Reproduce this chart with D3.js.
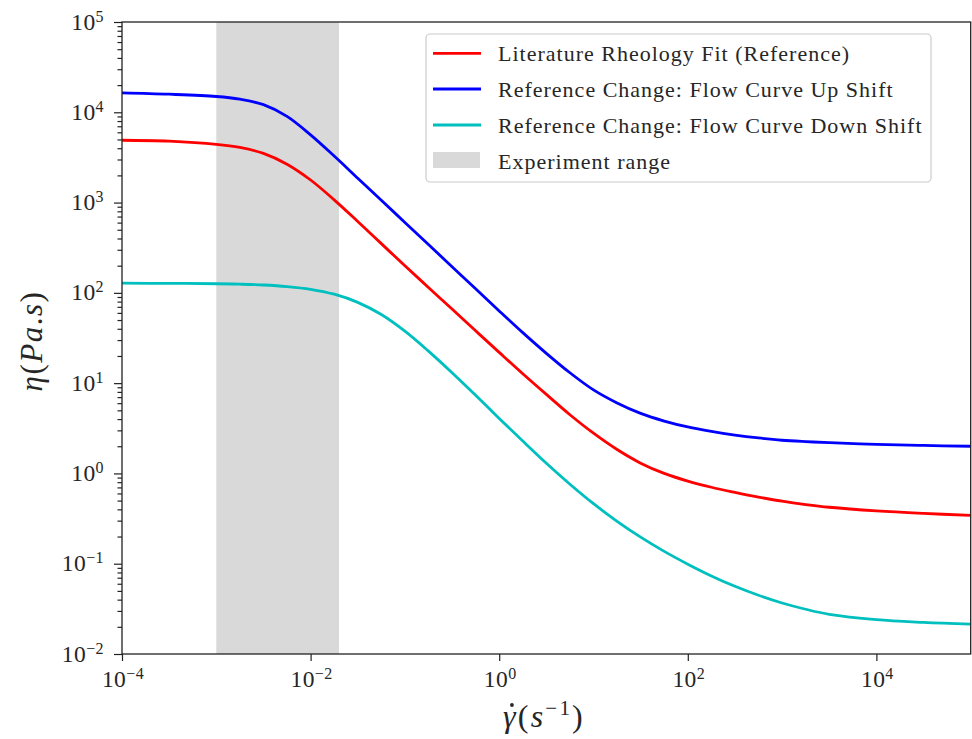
<!DOCTYPE html>
<html><head><meta charset="utf-8">
<script src="https://cdn.jsdelivr.net/npm/d3@7"></script>
<style>
body{margin:0;background:#fff}
text{font-family:"Liberation Serif","DejaVu Serif",serif;fill:#262626}
</style>
</head><body>
<svg id="chart" width="972" height="739"></svg>
<script>
// ---- data ----
const shearRate = [1e-4, 3.162e-4, 1e-3, 1.778e-3, 3.162e-3, 5.623e-3, 1e-2, 1.778e-2, 3.162e-2, 5.623e-2,
  0.1, 0.1778, 0.3162, 0.5623, 1, 1.778, 3.162, 5.623, 10, 17.78, 31.62, 56.23,
  100, 177.8, 316.2, 562.3, 1000, 1778, 3162, 1e4, 3.162e4, 1e5];
const literatureFit = [4898, 4786, 4416, 4074, 3508, 2661, 1778, 1072, 617, 351,
  199.5, 114.8, 66.1, 38.0, 21.9, 12.7, 7.50, 4.47, 2.79, 1.84, 1.30, 1.00,
  0.822, 0.703, 0.617, 0.547, 0.492, 0.452, 0.422, 0.385, 0.361, 0.343];
const upShift = [16410, 15850, 14960, 13960, 12160, 9016, 5623, 3273, 1862, 1059,
  602.6, 342.8, 195.0, 110.9, 63.1, 36.3, 21.4, 13.03, 8.41, 6.03, 4.62, 3.80,
  3.27, 2.92, 2.66, 2.47, 2.33, 2.25, 2.19, 2.10, 2.04, 2.00];
const downShift = [127.9, 127.4, 126.2, 124.7, 122.2, 117.5, 109.6, 96.6, 78.5, 57.5,
  37.6, 22.6, 13.03, 7.33, 4.07, 2.28, 1.294, 0.759, 0.462, 0.295, 0.197, 0.137,
  0.0989, 0.0733, 0.0562, 0.0447, 0.0367, 0.0313, 0.0275, 0.0240, 0.0224, 0.0214];
const seriesNames = ["Literature Rheology Fit (Reference)", "Reference Change: Flow Curve Up Shift", "Reference Change: Flow Curve Down Shift"];
const seriesColors = ["#ff0000", "#0000ff", "#00bfbf"];
const experimentRange = [1e-3, 2e-2];
const experimentLabel = "Experiment range";
const xTickExponents = [-4, -2, 0, 2, 4];
const yTickExponents = [-2, -1, 0, 1, 2, 3, 4, 5];

// ---- layout ----
const L = 122, R = 970.7, T = 22, B = 654;
const svg = d3.select("#chart");
const x = d3.scaleLog().domain([1e-4, 1e5]).range([L, R]);
const y = d3.scaleLog().domain([1e-2, 1e5]).range([B, T]);

svg.append("defs").append("clipPath").attr("id", "clip")
  .append("rect").attr("x", L).attr("y", T).attr("width", R - L).attr("height", B - T);

// experiment band
svg.append("rect")
  .attr("x", x(experimentRange[0])).attr("y", T)
  .attr("width", x(experimentRange[1]) - x(experimentRange[0]))
  .attr("height", B - T).attr("fill", "#d9d9d9");

// lines
const series = [literatureFit, upShift, downShift];
const line = d3.line().x(d => x(d[0])).y(d => y(d[1])).curve(d3.curveCatmullRom.alpha(0.5));
const gLines = svg.append("g").attr("clip-path", "url(#clip)");
series.forEach((vals, i) => {
  gLines.append("path")
    .attr("d", line(shearRate.map((s, k) => [s, vals[k]])))
    .attr("fill", "none").attr("stroke", seriesColors[i])
    .attr("stroke-width", 2.8).attr("stroke-linejoin", "round").attr("stroke-linecap", "round");
});

// axes ticks
const yMajor = yTickExponents.map(e => Math.pow(10, e));
const yMinor = [];
for (let e = -2; e < 5; e++) for (let m = 2; m <= 9; m++) yMinor.push(m * Math.pow(10, e));
const xMajor = xTickExponents.map(e => Math.pow(10, e));

const gy = svg.append("g").attr("transform", `translate(${L},0)`);
gy.call(d3.axisLeft(y).tickValues(yMajor).tickSize(8).tickFormat(""));
const gyMinor = svg.append("g").attr("transform", `translate(${L},0)`);
gyMinor.call(d3.axisLeft(y).tickValues(yMinor).tickSize(4.5).tickFormat(""));
const gx = svg.append("g").attr("transform", `translate(0,${B})`);
gx.call(d3.axisBottom(x).tickValues(xMajor).tickSize(7).tickFormat(""));
[gy, gyMinor, gx].forEach(g => {
  g.select(".domain").remove();
  g.selectAll(".tick line").attr("stroke", "#222").attr("stroke-width", 1.2);
});

function powLabel(sel, e) {
  sel.append("tspan").text("10");
  sel.append("tspan").attr("dy", -8).attr("font-size", 16).text(e < 0 ? "\u2212" + (-e) : String(e));
}
yTickExponents.forEach(e => {
  const t = svg.append("text").attr("x", 104).attr("y", y(Math.pow(10, e)) + 7.5)
    .attr("text-anchor", "end").attr("font-size", 23.5).attr("letter-spacing", 0.4);
  powLabel(t, e);
});
xTickExponents.forEach(e => {
  const t = svg.append("text").attr("x", x(Math.pow(10, e)) + 1).attr("y", 687)
    .attr("text-anchor", "middle").attr("font-size", 23.5).attr("letter-spacing", 0.4);
  powLabel(t, e);
});

// frame
svg.append("rect").attr("x", L).attr("y", T).attr("width", R - L).attr("height", B - T)
  .attr("fill", "none").attr("stroke", "#222").attr("stroke-width", 1.3);

// axis labels
const yl = svg.append("text").attr("transform", "translate(42,341) rotate(-90)")
  .attr("text-anchor", "middle").attr("font-size", 31).attr("letter-spacing", 1.5);
yl.append("tspan").attr("font-style", "italic").text("\u03b7");
yl.append("tspan").text("(");
yl.append("tspan").attr("font-style", "italic").text("Pa");
yl.append("tspan").text(".");
yl.append("tspan").attr("font-style", "italic").text("s");
yl.append("tspan").text(")");

const xl = svg.append("text").attr("x", 544).attr("y", 727)
  .attr("text-anchor", "middle").attr("font-size", 32).attr("letter-spacing", 2.2);
xl.append("tspan").attr("font-style", "italic").text("\u03b3");
xl.append("tspan").text("(");
xl.append("tspan").attr("font-style", "italic").text("s");
xl.append("tspan").attr("dy", -12).attr("font-size", 21).text("\u22121");
xl.append("tspan").attr("dy", 12).text(")");
// dot accent over gamma
const gExt = xl.node().getExtentOfChar(0);
svg.append("circle").attr("cx", gExt.x + gExt.width / 2 + 1.5).attr("cy", 705)
  .attr("r", 1.9).attr("fill", "#262626");

// legend
const lg = svg.append("g");
lg.append("rect").attr("x", 426).attr("y", 34).attr("width", 505).attr("height", 148)
  .attr("rx", 4).attr("fill", "#fff").attr("fill-opacity", 0.8)
  .attr("stroke", "#cccccc").attr("stroke-width", 1.2);
const rowY = [53.3, 89, 125, 160.5];
seriesNames.forEach((n, i) => {
  lg.append("line").attr("x1", 433).attr("x2", 481).attr("y1", rowY[i]).attr("y2", rowY[i])
    .attr("stroke", seriesColors[i]).attr("stroke-width", 2.8);
  lg.append("text").attr("x", 498).attr("y", rowY[i] + 8).attr("font-size", 22)
    .attr("letter-spacing", 1).text(n);
});
lg.append("rect").attr("x", 433).attr("y", 152).attr("width", 47).attr("height", 16).attr("fill", "#d9d9d9");
lg.append("text").attr("x", 498).attr("y", rowY[3] + 8).attr("font-size", 22)
  .attr("letter-spacing", 1).text(experimentLabel);
</script>
</body></html>
